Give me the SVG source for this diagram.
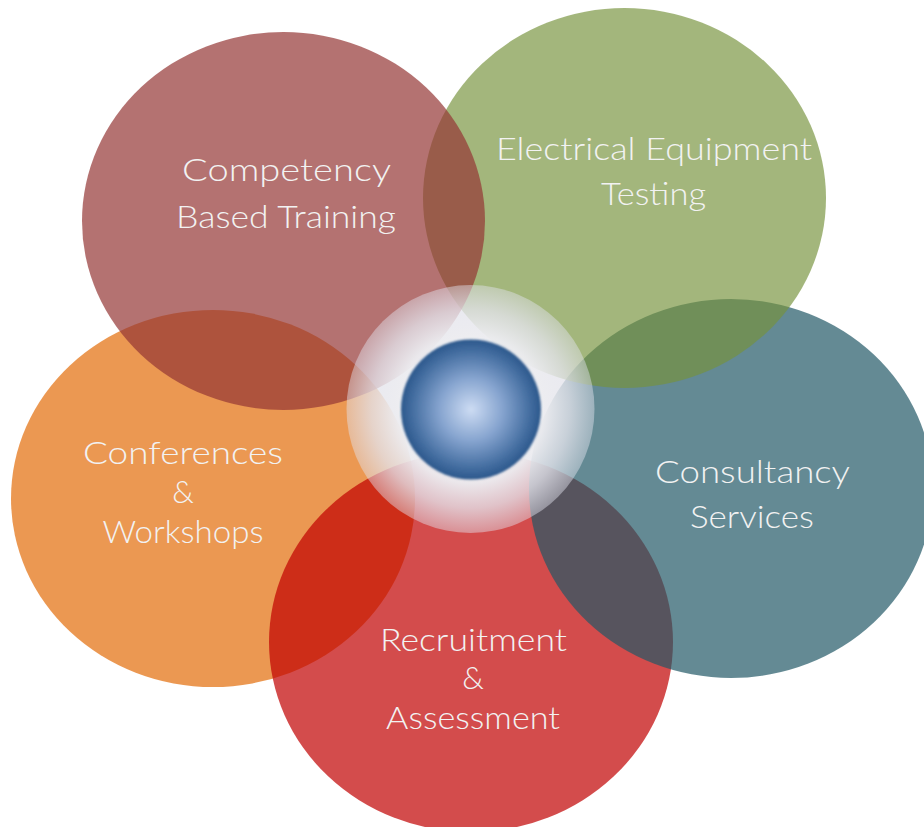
<svg xmlns="http://www.w3.org/2000/svg" width="924" height="827" viewBox="0 0 924 827">
<defs>
<radialGradient id="glow" cx="0.5" cy="0.5" r="0.5">
<stop offset="0" stop-color="#ffffff" stop-opacity="1"/>
<stop offset="0.6" stop-color="#ececf0" stop-opacity="0.97"/>
<stop offset="0.8" stop-color="#e4e4ec" stop-opacity="0.78"/>
<stop offset="1" stop-color="#e2e3ee" stop-opacity="0.45"/>
</radialGradient>
<radialGradient id="sphere" cx="0.5" cy="0.5" r="0.5">
<stop offset="0" stop-color="#cddcf3"/>
<stop offset="0.45" stop-color="#86a4cf"/>
<stop offset="0.85" stop-color="#426c9f"/>
<stop offset="1" stop-color="#2c588c"/>
</radialGradient>
<filter id="soft" x="-10%" y="-10%" width="120%" height="120%">
<feGaussianBlur stdDeviation="0.8"/>
</filter>
</defs>
<style>
.petal { stroke: none; opacity: 0.7; }
.lbl { font-family: "Lato", "DejaVu Sans", "Liberation Sans", sans-serif; font-weight: 300; font-size: 31px; fill: #f2f2f2; text-anchor: middle; }
</style>
<rect width="924" height="827" fill="#ffffff"/>
<g id="conferences-workshops">
<ellipse class="petal" cx="213" cy="498.5" rx="202" ry="188.5" fill="#e36c09"/>
<text class="lbl" x="183" y="464" textLength="200" lengthAdjust="spacingAndGlyphs">Conferences</text>
<text class="lbl" x="183" y="503">&amp;</text>
<text class="lbl" x="183" y="543" textLength="161" lengthAdjust="spacingAndGlyphs">Workshops</text>
</g>
<g id="recruitment-assessment">
<ellipse class="petal" cx="471" cy="642" rx="202" ry="190" fill="#c00000"/>
<text class="lbl" x="473.5" y="651" textLength="187" lengthAdjust="spacingAndGlyphs">Recruitment</text>
<text class="lbl" x="473" y="689">&amp;</text>
<text class="lbl" x="473" y="729" textLength="174" lengthAdjust="spacingAndGlyphs">Assessment</text>
</g>
<g id="consultancy-services">
<ellipse class="petal" cx="731" cy="488.5" rx="202" ry="189.5" fill="#225866"/>
<text class="lbl" x="752.5" y="483" textLength="195" lengthAdjust="spacingAndGlyphs">Consultancy</text>
<text class="lbl" x="752" y="528" textLength="124" lengthAdjust="spacingAndGlyphs">Services</text>
</g>
<g id="electrical-equipment-testing">
<ellipse class="petal" cx="624.5" cy="198" rx="201.5" ry="190" fill="#76923c" style="opacity:0.67"/>
<text class="lbl" x="654" y="160" textLength="316" lengthAdjust="spacingAndGlyphs">Electrical Equipment</text>
<text class="lbl" x="653.5" y="205" textLength="105" lengthAdjust="spacingAndGlyphs">Testing</text>
</g>
<g id="competency-based-training">
<ellipse class="petal" cx="283.5" cy="221" rx="201.5" ry="189" fill="#943634"/>
<text class="lbl" x="286.5" y="181" textLength="209" lengthAdjust="spacingAndGlyphs">Competency</text>
<text class="lbl" x="286" y="228" textLength="220" lengthAdjust="spacingAndGlyphs">Based Training</text>
</g>
<g id="center-hub">
<circle cx="470.5" cy="409" r="124" fill="url(#glow)"/>
<circle cx="471" cy="409.5" r="70" fill="url(#sphere)" filter="url(#soft)"/>
</g>
</svg>
